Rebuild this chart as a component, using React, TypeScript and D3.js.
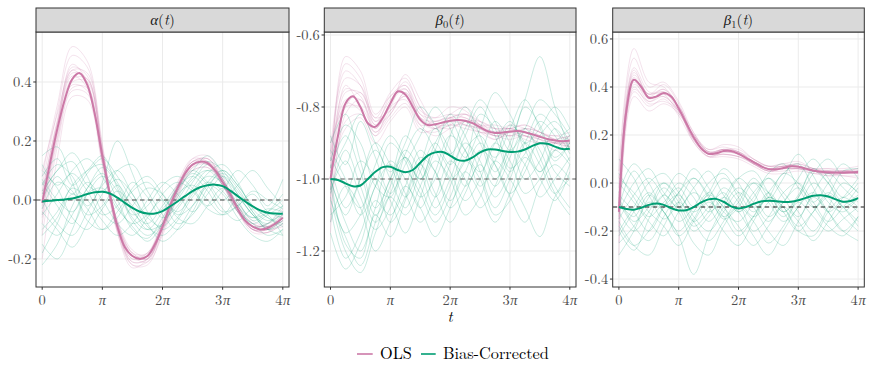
import React from 'react';
import * as d3 from 'd3';

// time grids (units of pi)
const tMean = [0,0.125,0.25,0.375,0.5,0.625,0.75,0.875,1,1.125,1.25,1.375,1.5,1.625,1.75,1.875,2,2.125,2.25,2.375,2.5,2.625,2.75,2.875,3,3.125,3.25,3.375,3.5,3.625,3.75,3.875,4];
const tRep = [0,0.25,0.5,0.75,1,1.25,1.5,1.75,2,2.25,2.5,2.75,3,3.25,3.5,3.75,4];

const xTicks = [0,1,2,3,4];
const xTickLabels = ['0','π','2π','3π','4π'];

const seriesNames = ['OLS','Bias-Corrected'];
const seriesColors = ['#CC79A7','#009E73'];

// ---- alpha(t)
const alphaOlsMean = [-0.01,0.12,0.24,0.34,0.41,0.43,0.39,0.29,0.15,0.02,-0.09,-0.16,-0.19,-0.2,-0.19,-0.15,-0.09,-0.02,0.04,0.09,0.12,0.13,0.125,0.1,0.06,0.02,-0.03,-0.07,-0.09,-0.1,-0.095,-0.08,-0.06];
const alphaBcMean = [-0.005,-0.003,0,0.002,0.005,0.012,0.02,0.026,0.028,0.022,0.008,-0.01,-0.027,-0.04,-0.046,-0.046,-0.038,-0.022,-0.005,0.013,0.03,0.043,0.05,0.052,0.047,0.032,0.013,-0.005,-0.022,-0.035,-0.043,-0.046,-0.047];
const alphaOlsReps = [
  [0.02,0.27,0.45,0.42,0.16,-0.1,-0.21,-0.2,-0.1,0.03,0.12,0.13,0.07,-0.02,-0.09,-0.1,-0.07],
  [-0.05,0.22,0.39,0.37,0.14,-0.08,-0.18,-0.18,-0.08,0.05,0.13,0.12,0.05,-0.04,-0.1,-0.1,-0.05],
  [0.05,0.3,0.49,0.45,0.18,-0.09,-0.22,-0.22,-0.11,0.03,0.14,0.15,0.08,-0.02,-0.08,-0.09,-0.06],
  [-0.12,0.18,0.37,0.36,0.13,-0.07,-0.17,-0.19,-0.1,0.02,0.1,0.11,0.05,-0.03,-0.1,-0.11,-0.08],
  [0.0,0.25,0.43,0.41,0.17,-0.1,-0.2,-0.18,-0.07,0.06,0.14,0.13,0.06,-0.04,-0.11,-0.11,-0.06],
  [-0.03,0.21,0.4,0.4,0.15,-0.08,-0.19,-0.21,-0.12,0.01,0.11,0.13,0.07,-0.03,-0.09,-0.08,-0.04],
  [0.08,0.32,0.52,0.47,0.19,-0.11,-0.23,-0.2,-0.08,0.05,0.13,0.14,0.06,-0.04,-0.1,-0.1,-0.07],
  [-0.2,0.14,0.35,0.34,0.12,-0.08,-0.18,-0.2,-0.09,0.04,0.12,0.12,0.06,-0.02,-0.08,-0.1,-0.09],
  [0.03,0.26,0.42,0.38,0.14,-0.09,-0.19,-0.19,-0.1,0.03,0.11,0.12,0.06,-0.03,-0.08,-0.09,-0.05],
  [-0.06,0.23,0.41,0.41,0.16,-0.09,-0.2,-0.19,-0.08,0.05,0.13,0.14,0.07,-0.03,-0.1,-0.11,-0.08],
  [0.1,0.29,0.44,0.39,0.14,-0.1,-0.21,-0.2,-0.1,0.03,0.12,0.12,0.05,-0.04,-0.09,-0.08,-0.03],
  [-0.02,0.24,0.44,0.43,0.17,-0.08,-0.19,-0.18,-0.08,0.04,0.1,0.11,0.06,-0.01,-0.07,-0.09,-0.07],
  [-0.08,0.2,0.38,0.38,0.15,-0.07,-0.18,-0.2,-0.11,0.02,0.12,0.14,0.07,-0.03,-0.1,-0.1,-0.06],
  [0.01,0.26,0.46,0.4,0.13,-0.11,-0.22,-0.21,-0.09,0.04,0.13,0.13,0.05,-0.04,-0.1,-0.09,-0.05],
];
const alphaBcReps = [
  [0.05,0.12,0.08,-0.02,0.05,0.1,0.02,-0.05,-0.03,0.04,0.08,0.03,-0.04,-0.02,0.03,0.0,-0.03],
  [-0.22,-0.15,-0.02,0.06,0.0,-0.08,-0.12,-0.06,0.02,0.06,0.03,-0.03,-0.05,0.0,-0.05,-0.1,-0.08],
  [0.15,0.18,0.06,-0.05,-0.02,0.05,-0.03,-0.1,-0.08,0.0,0.07,0.1,0.05,-0.03,-0.08,-0.05,-0.02],
  [-0.05,0.02,0.1,0.14,0.08,-0.02,-0.08,-0.05,0.0,-0.04,0.02,0.09,0.12,0.06,-0.03,-0.07,-0.05],
  [0.0,-0.08,-0.12,-0.04,0.06,0.2,0.09,-0.04,-0.1,-0.06,0.03,0.08,0.06,-0.01,-0.06,-0.04,0.0],
  [0.1,0.04,-0.06,-0.1,-0.03,0.03,-0.02,-0.09,-0.12,-0.07,0.01,0.06,0.03,-0.04,-0.08,-0.12,-0.1],
  [-0.1,-0.04,0.05,0.1,0.12,0.06,-0.04,-0.08,-0.02,0.05,0.1,0.06,0.0,0.05,0.1,0.04,-0.02],
  [0.03,0.1,0.16,0.08,-0.04,-0.08,-0.02,0.04,0.02,-0.05,-0.02,0.05,0.09,0.04,-0.04,-0.09,-0.07],
  [-0.15,-0.2,-0.1,0.02,0.04,-0.03,-0.09,-0.14,-0.08,0.02,0.05,0.0,-0.05,-0.02,0.02,-0.04,-0.06],
  [0.07,0.0,-0.04,0.04,0.11,0.05,-0.05,-0.02,0.05,0.08,0.04,-0.02,0.03,0.1,0.05,-0.02,0.07],
  [-0.03,0.06,0.03,-0.07,-0.1,-0.04,0.03,0.06,0.0,-0.08,-0.05,0.04,0.1,0.05,-0.02,-0.06,-0.09],
  [0.12,0.05,0.09,0.03,-0.05,-0.02,0.06,0.01,-0.06,-0.02,0.06,0.12,0.07,-0.02,-0.06,-0.03,-0.04],
  [-0.08,-0.12,-0.05,0.04,0.09,0.0,-0.1,-0.13,-0.06,0.03,0.09,0.05,-0.03,-0.07,-0.03,-0.05,-0.12],
  [0.0,0.08,0.02,0.09,0.14,0.08,0.0,-0.06,-0.09,-0.03,0.04,0.1,0.08,0.02,-0.05,-0.08,-0.04],
  [-0.12,-0.06,0.04,0.0,-0.07,-0.12,-0.08,0.0,0.06,0.02,-0.04,0.02,0.08,0.03,-0.04,-0.1,-0.06],
  [0.08,0.14,0.05,0.1,0.15,0.04,-0.06,-0.1,-0.04,0.04,0.1,0.15,0.09,0.0,-0.07,-0.04,0.02],
  [-0.04,-0.1,-0.16,-0.08,0.02,0.07,0.02,-0.08,-0.14,-0.1,-0.02,0.05,0.02,-0.06,-0.12,-0.14,-0.1],
  [0.02,0.1,0.13,0.05,0.03,0.1,0.12,0.03,-0.05,-0.1,-0.04,0.06,0.1,0.05,-0.02,-0.06,-0.08],
  [-0.18,-0.08,0.02,-0.03,-0.1,-0.06,0.04,0.08,0.02,-0.06,-0.08,-0.02,0.04,-0.02,-0.09,-0.08,-0.02],
  [0.06,-0.02,-0.08,0.02,0.08,0.03,-0.07,-0.12,-0.08,0.01,0.08,0.13,0.1,0.02,-0.05,-0.1,-0.12],
];

// ---- beta0(t)
const beta0OlsMean = [-1.0,-0.88,-0.79,-0.77,-0.8,-0.845,-0.855,-0.83,-0.79,-0.757,-0.765,-0.8,-0.835,-0.85,-0.848,-0.843,-0.838,-0.836,-0.838,-0.845,-0.856,-0.867,-0.872,-0.871,-0.868,-0.867,-0.87,-0.876,-0.883,-0.889,-0.893,-0.895,-0.894];
const beta0BcMean = [-1.0,-1.003,-1.012,-1.02,-1.018,-1.0,-0.98,-0.967,-0.966,-0.975,-0.981,-0.975,-0.955,-0.935,-0.926,-0.925,-0.935,-0.947,-0.949,-0.94,-0.926,-0.918,-0.918,-0.922,-0.925,-0.924,-0.918,-0.908,-0.901,-0.902,-0.91,-0.917,-0.916];
const beta0OlsReps = [
  [-0.95,-0.72,-0.74,-0.83,-0.76,-0.72,-0.8,-0.84,-0.82,-0.8,-0.84,-0.87,-0.85,-0.86,-0.88,-0.9,-0.88],
  [-1.12,-0.84,-0.82,-0.88,-0.83,-0.79,-0.86,-0.87,-0.85,-0.86,-0.87,-0.88,-0.89,-0.88,-0.9,-0.91,-0.92],
  [-1.02,-0.68,-0.72,-0.84,-0.78,-0.74,-0.81,-0.83,-0.82,-0.83,-0.85,-0.85,-0.86,-0.85,-0.87,-0.89,-0.88],
  [-0.9,-0.8,-0.8,-0.86,-0.79,-0.75,-0.84,-0.86,-0.83,-0.82,-0.86,-0.89,-0.87,-0.88,-0.9,-0.9,-0.89],
  [-1.08,-0.76,-0.76,-0.84,-0.8,-0.71,-0.78,-0.85,-0.86,-0.84,-0.84,-0.86,-0.88,-0.86,-0.87,-0.89,-0.91],
  [-0.98,-0.86,-0.83,-0.9,-0.84,-0.8,-0.87,-0.86,-0.84,-0.85,-0.87,-0.87,-0.86,-0.88,-0.89,-0.9,-0.9],
  [-1.05,-0.66,-0.7,-0.82,-0.77,-0.75,-0.82,-0.83,-0.8,-0.81,-0.85,-0.88,-0.87,-0.86,-0.87,-0.89,-0.9],
  [-0.93,-0.78,-0.78,-0.87,-0.81,-0.77,-0.85,-0.88,-0.86,-0.84,-0.86,-0.88,-0.87,-0.89,-0.9,-0.89,-0.88],
  [-1.15,-0.82,-0.78,-0.85,-0.82,-0.76,-0.83,-0.84,-0.83,-0.83,-0.85,-0.86,-0.86,-0.87,-0.88,-0.9,-0.91],
  [-0.97,-0.75,-0.77,-0.86,-0.79,-0.73,-0.8,-0.86,-0.85,-0.82,-0.85,-0.87,-0.86,-0.85,-0.87,-0.88,-0.87],
  [-1.0,-0.74,-0.8,-0.88,-0.8,-0.78,-0.85,-0.84,-0.83,-0.85,-0.86,-0.87,-0.88,-0.88,-0.89,-0.92,-0.9],
  [-1.06,-0.8,-0.76,-0.83,-0.81,-0.77,-0.83,-0.86,-0.84,-0.84,-0.87,-0.89,-0.87,-0.87,-0.89,-0.9,-0.9],
  [-0.92,-0.7,-0.74,-0.85,-0.77,-0.74,-0.83,-0.85,-0.83,-0.82,-0.84,-0.86,-0.86,-0.87,-0.88,-0.88,-0.89],
  [-1.03,-0.79,-0.81,-0.87,-0.82,-0.76,-0.82,-0.85,-0.85,-0.85,-0.86,-0.88,-0.88,-0.87,-0.88,-0.9,-0.91],
];
const beta0BcReps = [
  [-1.0,-1.12,-1.2,-1.08,-0.95,-1.0,-1.08,-0.98,-0.88,-0.92,-1.02,-0.95,-0.85,-0.9,-0.98,-0.92,-0.88],
  [-0.95,-0.85,-0.9,-1.02,-1.05,-0.93,-0.86,-0.92,-1.0,-0.95,-0.82,-0.86,-0.97,-0.93,-0.84,-0.88,-0.95],
  [-1.05,-1.2,-1.26,-1.15,-1.05,-1.1,-1.02,-0.92,-0.98,-1.06,-1.0,-0.9,-0.95,-1.04,-1.0,-0.92,-0.96],
  [-0.9,-0.82,-0.95,-1.08,-1.0,-0.88,-0.95,-1.05,-0.96,-0.84,-0.9,-1.0,-0.92,-0.8,-0.85,-0.95,-0.9],
  [-1.1,-1.05,-0.95,-1.0,-1.12,-1.05,-0.94,-0.98,-1.08,-1.02,-0.92,-0.96,-1.05,-1.12,-1.02,-0.96,-1.0],
  [-0.98,-0.9,-0.82,-0.9,-0.98,-0.9,-0.8,-0.85,-0.93,-0.86,-0.78,-0.84,-0.92,-0.86,-0.78,-0.82,-0.88],
  [-1.02,-1.15,-1.1,-1.0,-1.06,-1.15,-1.05,-0.95,-1.0,-1.1,-1.05,-0.95,-1.0,-1.08,-1.16,-1.05,-1.0],
  [-0.92,-1.0,-1.1,-1.02,-0.9,-0.95,-1.05,-1.0,-0.88,-0.8,-0.88,-0.98,-0.9,-0.78,-0.66,-0.8,-0.92],
  [-1.08,-1.22,-1.15,-1.02,-0.96,-1.04,-1.12,-1.05,-0.95,-1.0,-1.08,-1.02,-0.92,-0.96,-1.05,-1.0,-0.94],
  [-0.97,-0.88,-0.98,-1.1,-1.02,-0.92,-0.98,-1.08,-1.0,-0.9,-0.95,-1.05,-0.98,-0.87,-0.92,-1.02,-1.08],
  [-1.0,-1.1,-1.0,-0.92,-1.0,-1.08,-0.98,-0.9,-0.96,-0.88,-0.8,-0.88,-0.98,-0.9,-0.82,-0.86,-0.93],
  [-1.15,-1.25,-1.18,-1.06,-1.1,-1.02,-0.92,-0.98,-1.06,-0.98,-0.9,-0.94,-0.86,-0.78,-0.86,-0.94,-0.9],
  [-0.94,-1.02,-1.08,-0.96,-0.88,-0.94,-1.0,-0.9,-0.84,-0.92,-0.98,-0.9,-0.84,-0.92,-0.98,-0.9,-0.86],
  [-1.03,-0.95,-1.05,-1.14,-1.08,-0.98,-1.04,-1.12,-1.05,-0.95,-1.0,-1.1,-1.06,-0.96,-0.9,-0.98,-1.02],
  [-1.06,-1.16,-1.24,-1.12,-1.0,-0.94,-1.02,-1.1,-1.02,-0.92,-0.88,-0.96,-1.04,-0.98,-0.88,-0.84,-0.9],
  [-0.88,-0.96,-0.84,-0.94,-1.04,-0.96,-0.88,-0.8,-0.86,-0.94,-0.86,-0.76,-0.82,-0.9,-0.86,-0.8,-0.86],
  [-1.12,-1.02,-1.08,-1.2,-1.12,-1.02,-1.08,-1.16,-1.08,-0.98,-1.04,-1.12,-1.04,-0.94,-1.0,-1.06,-0.98],
  [-0.96,-1.08,-1.0,-0.9,-0.96,-1.05,-0.96,-0.86,-0.92,-1.02,-0.94,-0.84,-0.9,-1.0,-0.95,-0.86,-0.92],
  [-1.04,-0.92,-1.02,-1.12,-1.04,-0.94,-1.0,-0.92,-0.82,-0.88,-0.98,-1.08,-1.0,-0.9,-0.96,-1.04,-0.96],
  [-0.99,-1.18,-1.22,-1.1,-1.16,-1.06,-0.96,-1.04,-1.12,-1.04,-0.96,-1.02,-0.94,-0.86,-0.94,-1.04,-1.1],
];

// ---- beta1(t)
const beta1OlsMean = [-0.12,0.3,0.43,0.4,0.355,0.36,0.375,0.36,0.31,0.25,0.19,0.145,0.122,0.124,0.133,0.133,0.122,0.105,0.087,0.07,0.058,0.057,0.063,0.07,0.068,0.06,0.052,0.047,0.045,0.044,0.044,0.045,0.046];
const beta1BcMean = [-0.1,-0.108,-0.111,-0.103,-0.091,-0.085,-0.091,-0.105,-0.114,-0.113,-0.1,-0.081,-0.068,-0.066,-0.078,-0.097,-0.106,-0.1,-0.087,-0.077,-0.074,-0.076,-0.079,-0.078,-0.072,-0.062,-0.053,-0.051,-0.056,-0.068,-0.078,-0.075,-0.063];
const beta1OlsReps = [
  [-0.1,0.46,0.37,0.39,0.32,0.2,0.13,0.14,0.13,0.09,0.06,0.07,0.07,0.05,0.05,0.04,0.05],
  [-0.25,0.38,0.32,0.35,0.28,0.17,0.11,0.12,0.11,0.08,0.05,0.05,0.06,0.05,0.03,0.04,0.04],
  [0.02,0.52,0.4,0.42,0.34,0.21,0.14,0.16,0.15,0.1,0.07,0.08,0.09,0.06,0.06,0.06,0.07],
  [-0.15,0.42,0.34,0.36,0.3,0.18,0.12,0.12,0.11,0.08,0.05,0.06,0.06,0.04,0.04,0.03,0.03],
  [-0.05,0.48,0.38,0.37,0.29,0.2,0.14,0.15,0.13,0.09,0.07,0.08,0.07,0.05,0.05,0.05,0.06],
  [-0.3,0.36,0.3,0.33,0.29,0.18,0.11,0.11,0.1,0.07,0.04,0.04,0.05,0.04,0.03,0.03,0.02],
  [-0.08,0.45,0.37,0.41,0.33,0.19,0.12,0.14,0.13,0.1,0.07,0.07,0.08,0.06,0.05,0.05,0.05],
  [-0.18,0.4,0.33,0.34,0.3,0.2,0.13,0.13,0.12,0.08,0.05,0.06,0.07,0.05,0.04,0.04,0.04],
  [0.05,0.56,0.42,0.4,0.32,0.21,0.13,0.14,0.14,0.1,0.07,0.07,0.07,0.06,0.06,0.05,0.06],
  [-0.12,0.41,0.36,0.39,0.31,0.17,0.11,0.13,0.12,0.08,0.05,0.06,0.06,0.05,0.04,0.04,0.05],
  [-0.2,0.39,0.34,0.37,0.32,0.19,0.12,0.12,0.11,0.09,0.06,0.06,0.06,0.05,0.05,0.05,0.04],
  [-0.02,0.47,0.36,0.36,0.3,0.2,0.13,0.14,0.13,0.09,0.06,0.07,0.08,0.06,0.04,0.04,0.05],
  [-0.14,0.44,0.35,0.38,0.31,0.18,0.12,0.13,0.12,0.08,0.06,0.06,0.06,0.05,0.05,0.04,0.04],
  [-0.1,0.43,0.37,0.38,0.3,0.19,0.12,0.14,0.12,0.09,0.06,0.07,0.07,0.05,0.04,0.05,0.05],
];
const beta1BcReps = [
  [-0.1,0.05,-0.05,-0.15,-0.08,0.02,-0.05,-0.15,-0.1,0.0,-0.04,-0.12,-0.05,0.05,0.0,-0.08,-0.05],
  [-0.25,-0.18,-0.08,-0.12,-0.22,-0.15,-0.05,-0.1,-0.2,-0.14,-0.06,-0.1,-0.18,-0.12,-0.05,-0.1,-0.16],
  [0.1,0.02,-0.1,-0.05,0.04,-0.02,-0.12,-0.06,0.02,-0.04,-0.14,-0.08,0.02,0.1,0.02,-0.06,0.0],
  [-0.2,-0.28,-0.15,-0.05,-0.12,-0.25,-0.3,-0.18,-0.1,-0.16,-0.25,-0.18,-0.08,-0.14,-0.2,-0.15,-0.1],
  [-0.05,-0.12,-0.2,-0.1,0.0,-0.06,-0.16,-0.08,0.02,0.05,-0.04,-0.12,-0.06,0.04,0.1,0.02,-0.04],
  [-0.15,-0.05,0.02,-0.06,-0.16,-0.1,0.0,0.04,-0.06,-0.14,-0.08,0.02,0.12,0.03,-0.08,-0.12,-0.06],
  [0.0,-0.08,-0.16,-0.22,-0.12,-0.04,-0.1,-0.2,-0.26,-0.16,-0.06,-0.1,-0.2,-0.22,-0.12,-0.06,-0.1],
  [-0.3,-0.2,-0.06,0.0,-0.08,-0.18,-0.12,-0.02,-0.08,-0.2,-0.14,-0.04,0.0,-0.08,-0.16,-0.1,-0.02],
  [-0.08,-0.14,-0.05,-0.12,-0.22,-0.38,-0.22,-0.1,-0.02,-0.08,-0.16,-0.08,-0.02,-0.1,-0.18,-0.22,-0.14],
  [-0.12,0.0,0.06,-0.04,-0.1,-0.02,0.05,-0.05,-0.12,-0.06,0.04,0.08,-0.02,-0.1,-0.05,0.05,0.06],
  [-0.18,-0.26,-0.2,-0.1,-0.05,-0.14,-0.2,-0.12,-0.04,-0.1,-0.2,-0.26,-0.16,-0.06,-0.12,-0.2,-0.24],
  [0.04,-0.06,-0.14,-0.08,-0.02,-0.1,-0.04,0.06,0.0,-0.1,-0.06,0.04,0.0,-0.08,0.0,0.08,0.02],
  [-0.22,-0.12,-0.04,-0.12,-0.2,-0.12,-0.04,-0.1,-0.18,-0.26,-0.18,-0.1,-0.16,-0.24,-0.16,-0.08,-0.12],
  [-0.06,-0.16,-0.1,0.0,-0.06,-0.16,-0.1,-0.04,-0.12,-0.04,0.02,-0.06,-0.14,-0.04,0.04,-0.02,-0.08],
  [-0.16,-0.26,-0.3,-0.18,-0.08,-0.16,-0.24,-0.16,-0.06,0.0,-0.08,-0.16,-0.1,0.0,-0.06,-0.14,-0.2],
  [-0.04,0.08,0.0,-0.1,-0.04,0.06,-0.02,-0.12,-0.16,-0.08,0.02,-0.04,-0.12,-0.2,-0.1,0.0,-0.04],
  [-0.12,-0.2,-0.12,-0.02,-0.1,-0.2,-0.14,-0.06,-0.12,-0.22,-0.3,-0.2,-0.1,-0.04,-0.12,-0.2,-0.14],
  [-0.2,-0.1,0.0,0.04,-0.04,-0.12,-0.06,0.02,-0.04,-0.12,-0.04,0.04,0.08,-0.02,-0.12,-0.06,0.02],
  [0.02,-0.04,-0.12,-0.18,-0.26,-0.16,-0.08,-0.14,-0.22,-0.14,-0.04,-0.12,-0.2,-0.12,-0.04,-0.1,-0.18],
  [-0.08,-0.18,-0.24,-0.14,-0.04,0.02,-0.06,-0.14,-0.08,0.02,-0.06,-0.14,-0.06,0.06,0.0,-0.1,-0.06],
];

const alphaYTicks = [-0.2,0,0.2,0.4];
const alphaYLabels = ['-0.2','0.0','0.2','0.4'];
const beta0YTicks = [-1.2,-1.0,-0.8,-0.6];
const beta0YLabels = ['-1.2','-1.0','-0.8','-0.6'];
const beta1YTicks = [-0.4,-0.2,0,0.2,0.4,0.6];
const beta1YLabels = ['-0.4','-0.2','0.0','0.2','0.4','0.6'];
const trueRef = [0, -1.0, -0.1];

const LM: React.CSSProperties = { fontFamily: "'Latin Modern Roman', monospace" };
const GREEK: React.CSSProperties = { fontFamily: "'Liberation Serif', monospace", fontStyle: 'italic' };
const TOP = 32, BOTTOM = 287, STRIP_TOP = 8;

const panels = [
  { id: 'a', left: 36, right: 289, yDom: [-0.295, 0.5695], yTicks: alphaYTicks, yLabels: alphaYLabels,
    ref: trueRef[0], refColor: '#4d4d4d', ols: alphaOlsMean, bc: alphaBcMean, olsReps: alphaOlsReps, bcReps: alphaBcReps, sym: 'α', sub: '' },
  { id: 'b0', left: 324.3, right: 576, yDom: [-1.3, -0.5917], yTicks: beta0YTicks, yLabels: beta0YLabels,
    ref: trueRef[1], refColor: '#666666', ols: beta0OlsMean, bc: beta0BcMean, olsReps: beta0OlsReps, bcReps: beta0BcReps, sym: 'β', sub: '0' },
  { id: 'b1', left: 612.7, right: 864.3, yDom: [-0.433, 0.629], yTicks: beta1YTicks, yLabels: beta1YLabels,
    ref: trueRef[2], refColor: '#1a1a1a', ols: beta1OlsMean, bc: beta1BcMean, olsReps: beta1OlsReps, bcReps: beta1BcReps, sym: 'β', sub: '1' },
];

function PiLabel({ s }: { s: string }) {
  if (s === '0') return <>{s}</>;
  const pre = s.slice(0, -1);
  return <>{pre}<tspan style={GREEK} dx={pre ? 0.6 : 0}>π</tspan></>;
}

function Panel({ p }: { p: any }) {
  const pad = 6.2;
  const x = d3.scaleLinear().domain([0, 4]).range([p.left + pad, p.right - pad]);
  const y = d3.scaleLinear().domain(p.yDom).range([BOTTOM, TOP]);
  const curve = d3.curveCatmullRom.alpha(0.5);
  const repLine = d3.line<number>().x((_, i) => x(tRep[i])).y(d => y(d)).curve(curve);
  const meanLine = d3.line<number>().x((_, i) => x(tMean[i])).y(d => y(d)).curve(curve);
  const clipId = 'clip-' + p.id;
  const cx = (p.left + p.right) / 2;
  return (
    <g>
      <defs>
        <clipPath id={clipId}><rect x={p.left} y={TOP} width={p.right - p.left} height={BOTTOM - TOP} /></clipPath>
      </defs>
      <rect x={p.left} y={TOP} width={p.right - p.left} height={BOTTOM - TOP} fill="#fff" />
      {p.yTicks.map((t: number) => (
        <line key={'gy' + t} x1={p.left} x2={p.right} y1={y(t)} y2={y(t)} stroke="#ebebeb" strokeWidth={1} />
      ))}
      {xTicks.map(t => (
        <line key={'gx' + t} x1={x(t)} x2={x(t)} y1={TOP} y2={BOTTOM} stroke="#ebebeb" strokeWidth={1} />
      ))}
      <g clipPath={`url(#${clipId})`}>
        {p.olsReps.map((r: number[], i: number) => (
          <path key={'or' + i} d={repLine(r) || ''} fill="none" stroke={seriesColors[0]} strokeOpacity={0.3} strokeWidth={0.7} />
        ))}
        {p.bcReps.map((r: number[], i: number) => (
          <path key={'br' + i} d={repLine(r) || ''} fill="none" stroke={seriesColors[1]} strokeOpacity={0.3} strokeWidth={0.7} />
        ))}
        <line x1={p.left} x2={p.right} y1={y(p.ref)} y2={y(p.ref)} stroke={p.refColor} strokeWidth={1.1} strokeDasharray="4.5,3.5" />
        <path d={meanLine(p.ols) || ''} fill="none" stroke={seriesColors[0]} strokeWidth={2} />
        <path d={meanLine(p.bc) || ''} fill="none" stroke={seriesColors[1]} strokeWidth={2} />
      </g>
      <rect x={p.left} y={TOP} width={p.right - p.left} height={BOTTOM - TOP} fill="none" stroke="#333" strokeWidth={1} />
      <rect x={p.left} y={STRIP_TOP} width={p.right - p.left} height={TOP - STRIP_TOP} fill="#d9d9d9" stroke="#333" strokeWidth={1} />
      <text x={cx} y={25} textAnchor="middle" style={LM} fontSize={15} fill="#1a1a1a">
        <tspan style={GREEK}>{p.sym}</tspan>
        {p.sub ? <tspan fontSize={10.5} dy={3}>{p.sub}</tspan> : null}
        <tspan dy={p.sub ? -3 : 0}>(</tspan><tspan fontStyle="italic">t</tspan><tspan>)</tspan>
      </text>
      {p.yTicks.map((t: number, i: number) => (
        <g key={'yt' + t}>
          <line x1={p.left - 2.75} x2={p.left} y1={y(t)} y2={y(t)} stroke="#333" strokeWidth={1} />
          <text x={p.left - 4.5} y={y(t) + 4.6} textAnchor="end" style={LM} fontSize={14.5} fill="#4d4d4d">{p.yLabels[i]}</text>
        </g>
      ))}
      {xTicks.map((t, i) => (
        <g key={'xt' + t}>
          <line x1={x(t)} x2={x(t)} y1={BOTTOM} y2={BOTTOM + 2.75} stroke="#333" strokeWidth={1} />
          <text x={x(t)} y={304.5} textAnchor="middle" style={LM} fontSize={14.5} fill="#4d4d4d"><PiLabel s={xTickLabels[i]} /></text>
        </g>
      ))}
    </g>
  );
}

export default function App() {
  return (
    <svg width={872} height={378} style={{ position: 'absolute', left: 0, top: 0, background: '#fff' }}>
      <rect x={0} y={0} width={872} height={378} fill="#fff" />
      {panels.map(p => <Panel key={p.id} p={p} />)}
      <text x={450} y={322} textAnchor="middle" style={LM} fontSize={15.5} fontStyle="italic" fill="#000">t</text>
      <g>
        <line x1={357} x2={372.7} y1={354} y2={354} stroke={seriesColors[0]} strokeWidth={1.6} />
        <text x={380} y={359} style={LM} fontSize={16.3} fill="#000">{seriesNames[0]}</text>
        <line x1={421} x2={435.7} y1={354} y2={354} stroke={seriesColors[1]} strokeWidth={1.6} />
        <text x={443} y={359} style={LM} fontSize={16.3} fill="#000">{seriesNames[1]}</text>
      </g>
    </svg>
  );
}
